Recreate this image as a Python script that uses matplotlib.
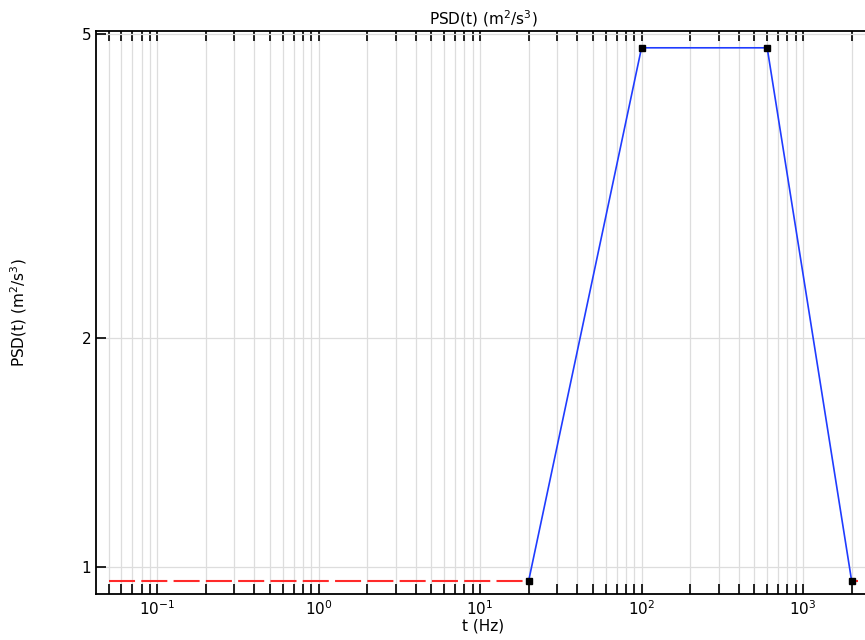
import matplotlib.pyplot as plt
from matplotlib.ticker import LogLocator, FixedLocator, NullLocator, NullFormatter, FixedFormatter

# PSD profile (breakpoints)
freq = [20, 100, 600, 2000]
psd = [0.96, 4.8, 4.8, 0.96]

# extrapolated parts (red dashed)
low_freq = [0.05, 20]
low_psd = [0.96, 0.96]
high_freq = [2000, 2200]
high_psd = [0.96, 0.96]

y_ticks = [1, 2, 5]
y_labels = ['1', '2', '5']

fig = plt.figure(figsize=(8.65, 6.4), dpi=100)
ax = fig.add_axes([96 / 865, 46 / 640, 774 / 865, 563 / 640])

ax.plot(low_freq, low_psd, color='#ff2a2a', linewidth=1.5, dashes=(12.5, 3))
ax.plot(high_freq, high_psd, color='#ff2a2a', linewidth=1.5, dashes=(12.5, 3))
ax.plot(freq, psd, color='#1f3cff', linewidth=1.2, marker='s', markersize=4,
        markerfacecolor='black', markeredgecolor='black')

ax.set_xscale('log')
ax.set_yscale('log')
ax.set_xlim(0.0418, 2600)
ax.set_ylim(0.922, 5.05)

ax.xaxis.set_major_locator(LogLocator(base=10, numticks=20))
ax.xaxis.set_minor_locator(LogLocator(base=10, subs=range(2, 10), numticks=100))
ax.xaxis.set_minor_formatter(NullFormatter())
ax.yaxis.set_major_locator(FixedLocator(y_ticks))
ax.yaxis.set_major_formatter(FixedFormatter(y_labels))
ax.yaxis.set_minor_locator(NullLocator())
ax.yaxis.set_minor_formatter(NullFormatter())

ax.tick_params(axis='x', which='both', direction='in', top=True, bottom=True,
               length=7, width=1.2, labelsize=11)
ax.tick_params(axis='y', which='major', direction='in', left=True, right=False,
               length=7, width=1.2, labelsize=11)

ax.grid(True, which='both', axis='x', color='#dddddd', linewidth=0.9)
ax.grid(True, which='major', axis='y', color='#dddddd', linewidth=0.9)
ax.set_axisbelow(True)

for s in ['left', 'bottom', 'top']:
    ax.spines[s].set_linewidth(1.3)
ax.spines['right'].set_visible(False)

ax.set_title('PSD(t) (m$^2$/s$^3$)', fontsize=11, pad=5)
ax.set_xlabel('t (Hz)', fontsize=11, labelpad=1)
ax.set_ylabel('PSD(t) (m$^2$/s$^3$)', fontsize=11, labelpad=38)

fig.savefig('out.png', dpi=100)
